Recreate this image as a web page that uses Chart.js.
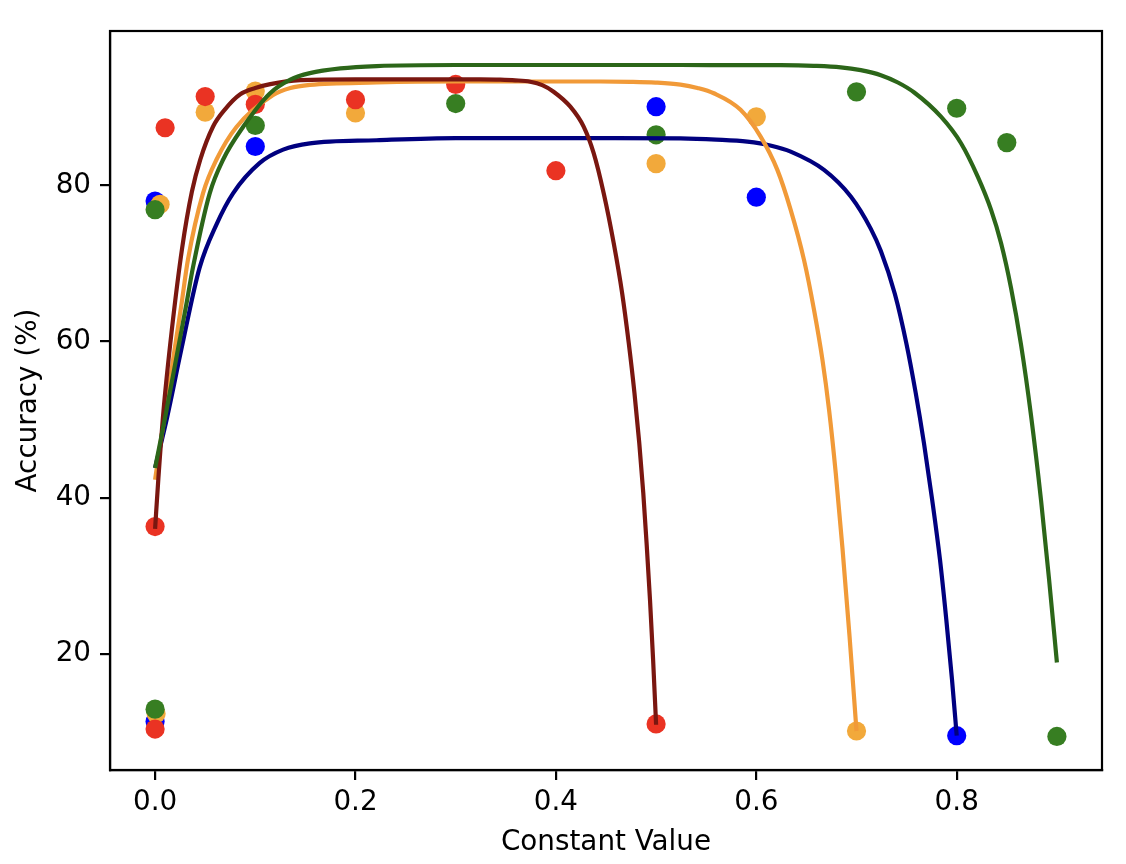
<!DOCTYPE html>
<html>
<head>
<meta charset="utf-8">
<script src="https://cdn.jsdelivr.net/npm/chart.js@4.4.1/dist/chart.umd.min.js"></script>
<style>
  html, body { margin: 0; padding: 0; background: #ffffff; }
  #wrap { width: 1126px; height: 864px; }
</style>
</head>
<body>
<div id="wrap"><canvas id="c" width="1126" height="864"></canvas></div>
<script>
// ---- Axis ticks ----
const xTicks = [0, 0.2, 0.4, 0.6, 0.8];
const yTicks = [20, 40, 60, 80];
const xTitle = 'Constant Value';
const yTitle = 'Accuracy (%)';

// ---- Measured points ----
const blueX = [0, 0, 0.1, 0.5, 0.6, 0.8];
const blueY = [78.0, 11.3, 85.0, 90.1, 78.5, 9.5];
const orangeX = [0.005, 0.001, 0.05, 0.1, 0.2, 0.5, 0.6, 0.7];
const orangeY = [77.6, 12.3, 89.4, 92.1, 89.3, 82.8, 88.8, 10.1];
const greenX = [0, 0, 0.1, 0.3, 0.5, 0.7, 0.8, 0.85, 0.9];
const greenY = [76.9, 12.9, 87.7, 90.5, 86.5, 92.0, 89.9, 85.5, 9.4];
const redX = [0, 0, 0.01, 0.05, 0.1, 0.2, 0.3, 0.4, 0.5];
const redY = [36.3, 10.35, 87.4, 91.4, 90.4, 91.0, 92.95, 81.9, 11.0];

// ---- Fitted curves ----
const blueFitX = [0, 0.0122, 0.0262, 0.0445, 0.0612, 0.0778, 0.1045, 0.1278, 0.1545, 0.2211, 0.3, 0.45, 0.5243, 0.56, 0.591, 0.615, 0.6343, 0.6676, 0.6943, 0.7143, 0.7243, 0.7383, 0.7497, 0.7591, 0.7673, 0.7755, 0.7833, 0.7896, 0.7953, 0.8];
const blueFitY = [43.8, 50.4, 59.0, 69.5, 75.0, 79.0, 82.9, 84.6, 85.4, 85.8, 86.08, 86.08, 86.04, 85.88, 85.62, 85.1, 84.34, 82.0, 78.58, 74.44, 71.6, 66.1, 59.81, 53.41, 47.0, 39.74, 32.06, 24.38, 16.7, 9.5];

const orangeFitX = [0, 0.0045, 0.0095, 0.0195, 0.026, 0.0328, 0.0478, 0.0612, 0.0812, 0.1178, 0.135, 0.1545, 0.2211, 0.3, 0.4444, 0.4744, 0.4994, 0.5243, 0.5413, 0.5576, 0.5843, 0.6043, 0.621, 0.6343, 0.6476, 0.6576, 0.666, 0.6726, 0.6793, 0.686, 0.693, 0.7];
const orangeFitY = [42.3, 46.3, 50.4, 59.0, 64.5, 70.5, 79.0, 83.3, 87.5, 91.6, 92.5, 92.9, 93.2, 93.33, 93.33, 93.29, 93.19, 92.93, 92.5, 91.82, 89.7, 86.26, 82.0, 76.88, 70.47, 64.07, 57.67, 51.27, 43.12, 33.52, 22.33, 10.1];

const greenFitX = [0, 0.0102, 0.0228, 0.0311, 0.0378, 0.0545, 0.0678, 0.0878, 0.1145, 0.135, 0.1545, 0.185, 0.2211, 0.3, 0.5243, 0.6243, 0.6573, 0.6843, 0.7043, 0.7243, 0.7413, 0.7576, 0.7843, 0.8043, 0.821, 0.8343, 0.8443, 0.8542, 0.8642, 0.8742, 0.8842, 0.8922, 0.9];
const greenFitY = [43.8, 50.4, 59.0, 64.7, 69.5, 79.0, 83.3, 87.5, 91.8, 93.58, 94.4, 95.0, 95.3, 95.44, 95.44, 95.42, 95.34, 95.15, 94.78, 94.14, 93.2, 91.92, 88.82, 85.42, 81.14, 76.88, 72.61, 66.89, 59.59, 50.5, 39.62, 29.5, 18.87];

const redFitX = [0, 0.0033, 0.0083, 0.0167, 0.027, 0.0367, 0.045, 0.058, 0.07, 0.085, 0.1, 0.115, 0.145, 0.2, 0.2444, 0.3244, 0.3444, 0.3594, 0.3744, 0.3864, 0.3977, 0.4144, 0.4277, 0.4377, 0.4477, 0.4577, 0.4661, 0.4727, 0.4784, 0.4832, 0.4872, 0.4906, 0.4939, 0.497, 0.5];
const redFitY = [36.0, 42.5, 51.0, 61.5, 72.0, 79.2, 83.3, 87.6, 89.8, 91.7, 92.5, 93.0, 93.5, 93.6, 93.6, 93.59, 93.56, 93.48, 93.3, 92.86, 92.02, 90.1, 87.54, 84.14, 79.01, 72.61, 66.21, 59.81, 53.41, 47.0, 40.6, 33.98, 26.94, 19.26, 10.9];

// ---- Axis limits ----
const xMin = -0.045, xMax = 0.945;
const yMin = 5.1, yMax = 99.8;

const pts = (xs, ys) => xs.map((x, i) => ({ x: x, y: ys[i] }));

const FONT = { family: "'DejaVu Sans', sans-serif", size: 27.8 };
const PT_R = 9.6;
const LW = 4.2;

function scatterSet(label, xs, ys, color, order) {
  return { type: 'scatter', label, data: pts(xs, ys), backgroundColor: color, borderColor: color,
    borderWidth: 0, pointRadius: PT_R, pointHoverRadius: PT_R, showLine: false, order };
}
function lineSet(label, xs, ys, color, order) {
  return { type: 'line', label, data: pts(xs, ys), borderColor: color, backgroundColor: color,
    borderWidth: LW, pointRadius: 0, pointHoverRadius: 0,
    cubicInterpolationMode: 'monotone', fill: false, order };
}

const frame = {
  id: 'frame',
  afterDatasetsDraw(chart) {
    const a = chart.chartArea, ctx = chart.ctx;
    ctx.save();
    ctx.strokeStyle = '#000';
    ctx.lineWidth = 2.2;
    ctx.strokeRect(a.left, a.top, a.right - a.left, a.bottom - a.top);
    ctx.restore();
  }
};

new Chart(document.getElementById('c'), {
  type: 'scatter',
  data: {
    datasets: [
      scatterSet('blue points', blueX, blueY, '#0000ff', 8),
      scatterSet('orange points', orangeX, orangeY, '#f2a93b', 7),
      scatterSet('green points', greenX, greenY, '#377e22', 6),
      scatterSet('red points', redX, redY, '#ea3323', 5),
      lineSet('blue fit', blueFitX, blueFitY, '#00007f', 4),
      lineSet('orange fit', orangeFitX, orangeFitY, '#f19a38', 3),
      lineSet('red fit', redFitX, redFitY, '#7a1710', 2),
      lineSet('green fit', greenFitX, greenFitY, '#2c6619', 1)
    ]
  },
  options: {
    responsive: false,
    devicePixelRatio: 1,
    animation: false,
    layout: { padding: { top: 31, right: 24, left: 0, bottom: 0 } },
    plugins: { legend: { display: false }, tooltip: { enabled: false } },
    scales: {
      x: {
        type: 'linear', min: xMin, max: xMax,
        afterFit(s) { s.height = 94; },
        afterBuildTicks(s) { s.ticks = xTicks.map(v => ({ value: v })); },
        ticks: { color: '#000', font: FONT, padding: 6, maxRotation: 0, autoSkip: false,
          callback: v => Number(v).toFixed(1) },
        grid: { display: true, drawOnChartArea: false, drawTicks: true, tickLength: 10, color: '#000', lineWidth: 2.2 },
        border: { display: true, color: '#000', width: 2.2 },
        title: { display: true, text: xTitle, color: '#000', font: FONT, padding: { top: 0, bottom: 5 } }
      },
      y: {
        type: 'linear', min: yMin, max: yMax,
        afterFit(s) { s.width = 110; },
        afterBuildTicks(s) { s.ticks = yTicks.map(v => ({ value: v })); },
        ticks: { color: '#000', font: FONT, padding: 9, autoSkip: false, callback: v => String(v) },
        grid: { display: true, drawOnChartArea: false, drawTicks: true, tickLength: 10, color: '#000', lineWidth: 2.2 },
        border: { display: true, color: '#000', width: 2.2 },
        title: { display: true, text: yTitle, color: '#000', font: FONT, padding: { top: 12.5, bottom: 0 } }
      }
    }
  },
  plugins: [frame]
});
</script>
</body>
</html>
